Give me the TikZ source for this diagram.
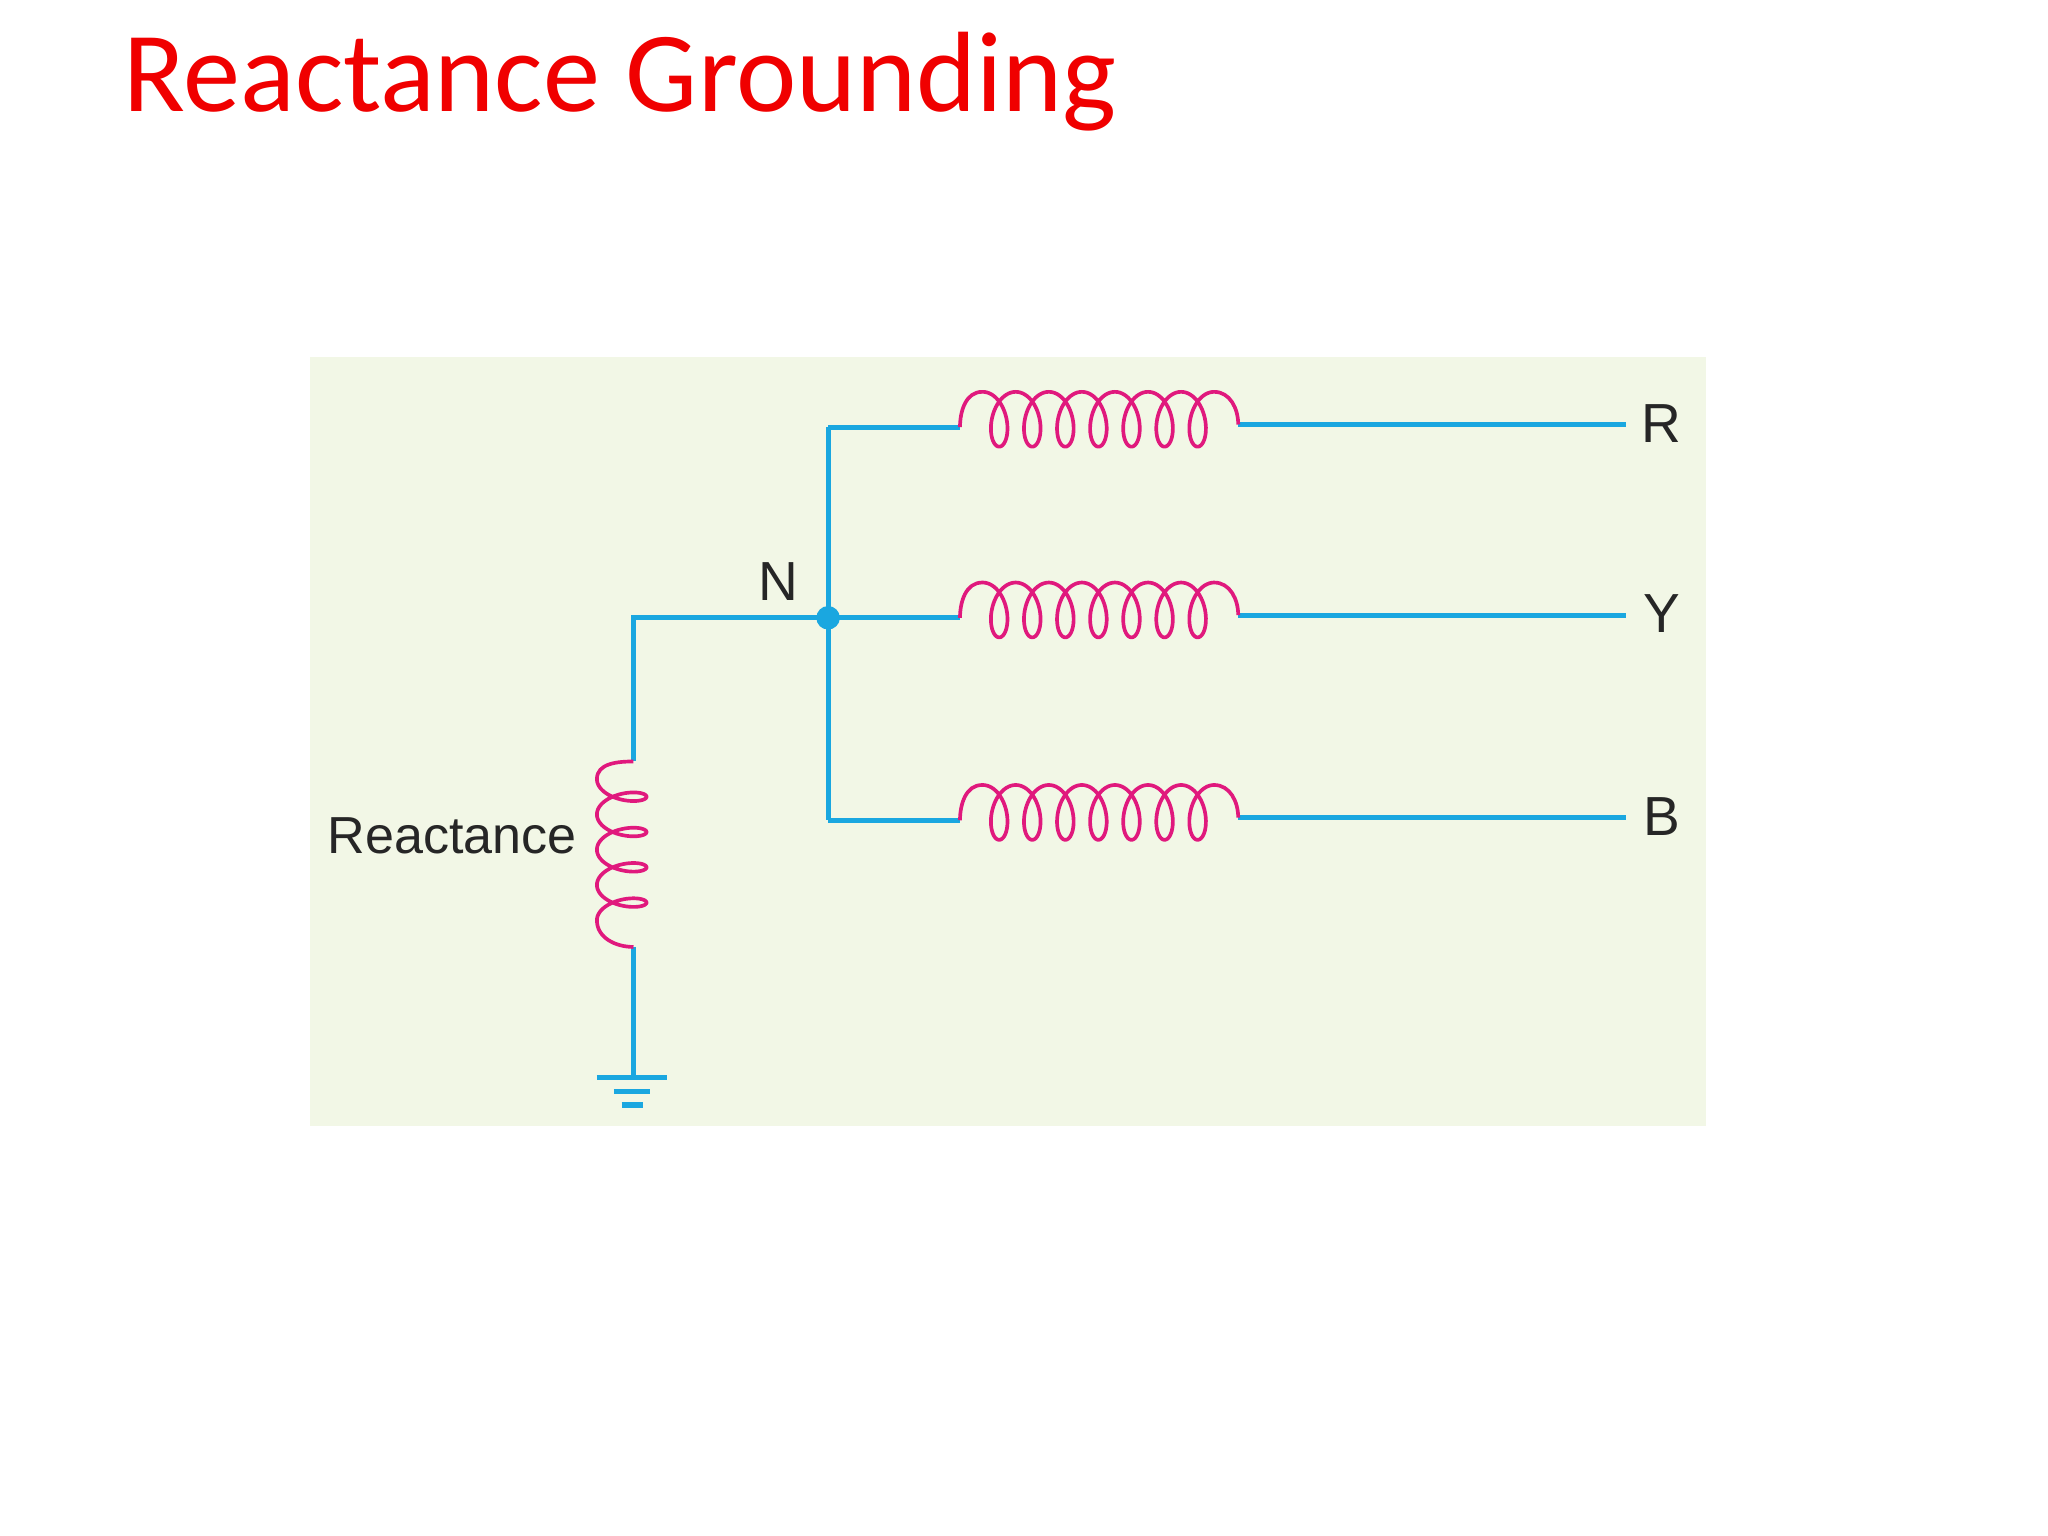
\documentclass[tikz,border=0pt]{standalone}
\usepackage{fontspec}
\setmainfont{Liberation Sans}
\newfontfamily\titlefont{Carlito}
\definecolor{wire}{HTML}{1AA7E0}
\definecolor{coilc}{HTML}{E0197D}
\definecolor{panel}{HTML}{F2F7E6}
\definecolor{titlered}{HTML}{F00000}
\begin{document}
\begin{tikzpicture}[x=0.02cm,y=0.02cm,
  wireline/.style={draw=wire,line width=2.2pt},
  coilline/.style={draw=coilc,line width=1.6pt},
  lbl/.style={font=\fontsize{24}{24}\selectfont,text=black!85,inner sep=0pt}]
\useasboundingbox (0,0) rectangle (1568,-1176);
\fill[panel] (237,-273) rectangle (1306,-862);
\node[anchor=base west,text=titlered,font=\titlefont\fontsize{49.8}{50}\selectfont,inner sep=0pt] (title) at (94,-85) {Reactance Grounding};
% three phases
\foreach \yy/\nm in {327/R,473/Y,628/B}{
  \coordinate (s\nm) at (634,-\yy);
  \coordinate (c\nm) at (735,-\yy);
  \coordinate (e\nm) at (948,-\yy+2);
  \coordinate (t\nm) at (1245,-\yy+2);
  \node[lbl] (l\nm) at (1272,-\yy+3) {\nm};
  \draw[wireline] (s\nm) -- (c\nm);
  \draw[wireline] (e\nm) -- (t\nm);
  \draw[coilline] (c\nm) to[out=90,in=180] (752,-\yy+27)
    -- plot[domain=-pi:13*pi,samples=400,smooth] ({765+4.03*\x-12*sin(\x r)},{-(\yy-6+21*cos(\x r))})
    to[out=0,in=90] (e\nm);
}
\draw[wireline] (sR) -- (sB);
\coordinate (nl) at (485,-473);
\coordinate (rt) at (485,-583);
\coordinate (rb) at (485,-725);
\coordinate (g) at (485,-825);
\draw[wireline] (sY) -- (nl) -- (rt);
\draw[wireline] (rb) -- (g);
\draw[coilline] (rt) to[out=180,in=90] (457,-596.5)
  -- plot[domain=-pi:7*pi,samples=300,smooth] ({476+19*cos(\x r)},{-(610+4.3*\x-9*sin(\x r))})
  to[out=-90,in=180] (rb);
\draw[wireline] (457,-825) -- (511,-825);
\draw[wireline] (470,-836) -- (498,-836);
\draw[wireline] (476,-846) -- (492,-846);
\fill[wire] (sY) circle (9);
\node[lbl] (N) at (596,-445) {N};
\node[lbl,anchor=east,font=\fontsize{22.7}{23}\selectfont] (react) at (442,-640) {Reactance};
\end{tikzpicture}
\end{document}
